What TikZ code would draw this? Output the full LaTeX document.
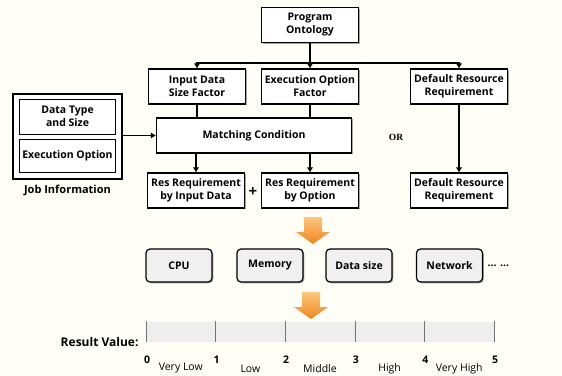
\documentclass[tikz,border=0pt]{standalone}
\usepackage{fontspec}
\setmainfont{Open Sans}
\newfontfamily\orfont{Liberation Serif}
\usetikzlibrary{positioning,shadows,calc,arrows.meta}
\definecolor{paper}{RGB}{255,254,246}
\definecolor{barfill}{RGB}{238,238,238}
\definecolor{boxfill}{RGB}{240,240,240}
\definecolor{orangetop}{RGB}{252,200,128}
\definecolor{orangebot}{RGB}{240,134,28}
\newcommand{\boxfont}{\fontsize{10.5}{13}\selectfont\bfseries}
\tikzset{%
	myshadow/.style = {drop shadow={shadow xshift=1.3pt, shadow yshift=-1.3pt, opacity=.35, fill=black}},
	factor/.style   = {draw, line width=1.2pt, rectangle, fill=white, minimum width=97pt, minimum height=35pt, inner sep=1pt, align=center, font=\boxfont, myshadow},
	inner/.style    = {draw, semithick, rectangle, fill=white, minimum width=96pt, inner sep=1pt, align=center, font=\boxfont},
	resource/.style = {draw, line width=1.2pt, rectangle, rounded corners=4pt, fill=boxfill, minimum width=66pt, minimum height=33pt, font=\boxfont, myshadow},
	line/.style     = {line width=1.2pt},
	arrow/.style    = {line width=1.2pt,-{Latex[length=5pt,width=6.5pt]}},
	tick/.style     = {draw=black!55, semithick},
}

\begin{document}
\begin{tikzpicture}[x=1pt,y=-1pt]
	\useasboundingbox[fill=paper] (0,0) rectangle (562,375);
	
	% ontology part
	\node[factor] (po) at (310,25) {Program\\Ontology};
	\node[factor] (idsf) at (197,86.5) {Input Data\\Size Factor};
	\node[factor] (eof) at (310,86.5) {Execution Option\\Factor};
	\node[factor] (drr) at (459,86.5) {Default Resource\\Requirement};
	\coordinate (split) at (310,63);
	\draw[line] (po) -- (split);
	\draw[arrow] (split) -| (idsf);
	\draw[arrow] (split) -- (eof);
	\draw[arrow] (split) -| (drr);
	
	% job information
	\node[draw, line width=1.2pt, rectangle, fill=white, minimum width=109pt, minimum height=85pt, myshadow] (job) at (67.5,136.5) {};
	\node[inner, minimum height=35pt] (dts) at (67.5,116.5) {Data Type\\and Size};
	\node[inner, minimum height=33pt] (exo) at (67.5,155.5) {Execution Option};
	\node[font=\fontsize{11}{13}\selectfont\bfseries, below=2pt of job] (joblabel) {Job Information};
	
	% matching
	\node[factor, minimum width=195pt] (mc) at (254,135.5) {Matching Condition};
	\draw[arrow] (job.east |- mc) -- (mc);
	\draw[line] (idsf) -- (idsf |- mc.north);
	\draw[line] (eof) -- (eof |- mc.north);
	\node[font=\orfont\fontsize{9.5}{10}\selectfont\bfseries] (orlabel) at (396,137) {OR};
	
	\node[factor] (rid) at (196,190.5) {Res Requirement\\by Input Data};
	\node[factor] (rop) at (310,190.5) {Res Requirement\\by Option};
	\node[factor] (drrb) at (459,190.5) {Default Resource\\Requirement};
	\node[font=\fontsize{15}{15}\selectfont\bfseries] (plus) at (253,192) {+};
	\draw[arrow] (rid |- mc.south) -- (rid);
	\draw[arrow] (rop |- mc.south) -- (rop);
	\draw[arrow] (drr) -- (drrb);
	
	% orange arrows
	\foreach \ax/\ay in {313/217, 311/292}
		\shade[top color=orangetop, bottom color=orangebot] ({\ax-9},\ay) -- ({\ax+9},\ay) -- ({\ax+9},{\ay+15}) -- ({\ax+17},{\ay+15}) -- (\ax,{\ay+27}) -- ({\ax-17},{\ay+15}) -- ({\ax-9},{\ay+15}) -- cycle;
	
	% resources
	\node[resource] (cpu) at (179,265.5) {CPU};
	\node[resource] (mem) at (270,265.5) {Memory};
	\node[resource] (dsize) at (359,265.5) {Data size};
	\node[resource] (net) at (449.5,265.5) {Network};
	\node[font=\boxfont, right=1pt of net] (dots) {... ...};
	
	% result scale
	\node[font=\fontsize{12}{14}\selectfont\bfseries, anchor=east] (result) at (142,342) {Result Value:};
	\fill[barfill] (146,322) rectangle (494,342);
	\foreach \v [evaluate=\v as \xv using 146+69.6*\v] in {0,1,2,3,4,5} {
		\draw[tick] (\xv,321) -- (\xv,342);
		\node[font=\fontsize{10.5}{12}\selectfont\bfseries] at (\xv+1,360) {\v};
	}
	\foreach \lab [count=\i, evaluate=\i as \xl using 146+69.6*(\i-0.5)] in {Very Low,Low,Middle,High,Very High}
		\node[font=\fontsize{10.5}{12}\selectfont] at (\xl,368.5) {\lab};
\end{tikzpicture}
\end{document}
